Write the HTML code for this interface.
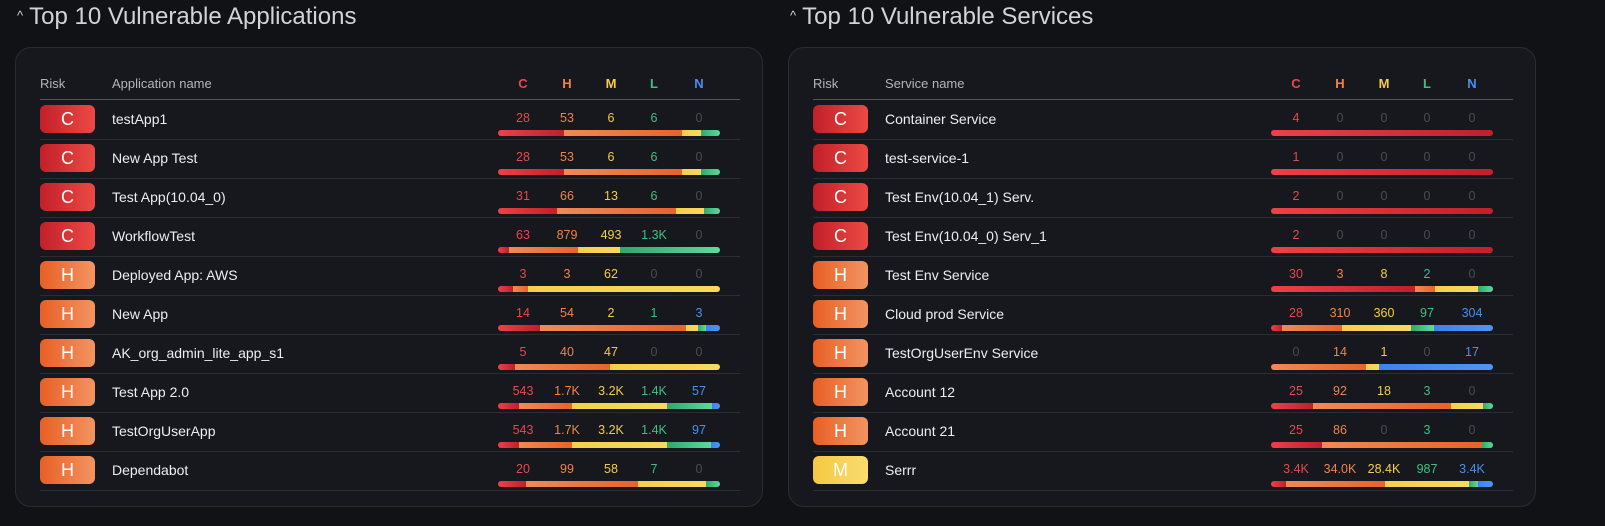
<!DOCTYPE html>
<html><head><meta charset="utf-8">
<style>
body{margin:0;width:1605px;height:526px;background:#111216;font-family:"Liberation Sans",sans-serif;overflow:hidden;position:relative}
.title{position:absolute;top:3px;font-size:24px;color:#d2d3d8}
.title span{font-size:13px;margin-right:6px;position:relative;top:-4px}
.card{position:absolute;top:47px;width:748px;height:460px;background:#17181d;border:1px solid #2b2c33;border-radius:16px;box-sizing:border-box}
.hdr{position:absolute;top:28px;font-size:13px;color:#b4b5bb}
.hline{position:absolute;left:24px;top:51px;width:700px;height:1px;background:#55565c}
.row{position:absolute;left:24px;width:700px;height:39px;border-bottom:1px solid #2c2d33}
.badge{position:absolute;left:0;top:5px;width:55px;height:28px;border-radius:6px;color:#fff;font-size:18px;text-align:center;line-height:28px}
.bC{background:linear-gradient(90deg,#c21f2a,#ec4a44)}
.bH{background:linear-gradient(90deg,#e85f25,#f39462)}
.bM{background:linear-gradient(90deg,#f5c842,#f9dd6d)}
.name{position:absolute;left:72px;top:11px;font-size:14px;color:#eceef2}
.num{position:absolute;top:11px;width:40px;text-align:center;font-size:12.5px}
.bar{position:absolute;top:30px;height:6px;border-radius:3px;overflow:hidden;display:flex}
.colh{position:absolute;top:28px;width:40px;text-align:center;font-size:13px;font-weight:bold}
</style></head><body>
<div class="title" style="left:17px"><span>^</span>Top 10 Vulnerable Applications</div>
<div class="title" style="left:790px"><span>^</span>Top 10 Vulnerable Services</div>
<div class="card" id="c1" style="left:15px"></div>
<div class="card" id="c2" style="left:788px"></div>
<script>
const appNames=["testApp1","New App Test","Test App(10.04_0)","WorkflowTest","Deployed App: AWS","New App","AK_org_admin_lite_app_s1","Test App 2.0","TestOrgUserApp","Dependabot"];
const appRisk=["C","C","C","C","H","H","H","H","H","H"];
const appC=[28,28,31,63,3,14,5,543,543,20];
const appH=[53,53,66,879,3,54,40,1700,1700,99];
const appM=[6,6,13,493,62,2,47,3200,3200,58];
const appL=[6,6,6,1300,0,1,0,1400,1400,7];
const appN=[0,0,0,0,0,3,0,57,97,0];
const appLabels=[["28","53","6","6","0"],["28","53","6","6","0"],["31","66","13","6","0"],["63","879","493","1.3K","0"],["3","3","62","0","0"],["14","54","2","1","3"],["5","40","47","0","0"],["543","1.7K","3.2K","1.4K","57"],["543","1.7K","3.2K","1.4K","97"],["20","99","58","7","0"]];
const svcNames=["Container Service","test-service-1","Test Env(10.04_1) Serv.","Test Env(10.04_0) Serv_1","Test Env Service","Cloud prod Service","TestOrgUserEnv Service","Account 12","Account 21","Serrr"];
const svcRisk=["C","C","C","C","H","H","H","H","H","M"];
const svcC=[4,1,2,2,30,28,0,25,25,3400];
const svcH=[0,0,0,0,3,310,14,92,86,34000];
const svcM=[0,0,0,0,8,360,1,18,0,28400];
const svcL=[0,0,0,0,2,97,0,3,3,987];
const svcN=[0,0,0,0,0,304,17,0,0,3400];
const svcLabels=[["4","0","0","0","0"],["1","0","0","0","0"],["2","0","0","0","0"],["2","0","0","0","0"],["30","3","8","2","0"],["28","310","360","97","304"],["0","14","1","0","17"],["25","92","18","3","0"],["25","86","0","3","0"],["3.4K","34.0K","28.4K","987","3.4K"]];
const sevLetters=["C","H","M","L","N"];
const textCol=["#e5484d","#f0834a","#f5cc4a","#3fbf86","#4a8ff0"];
const segCol=["linear-gradient(90deg,#ee4147,#c01f2b)","linear-gradient(90deg,#f08a55,#e8632a)","linear-gradient(90deg,#f5cf4a,#f7d95e)","linear-gradient(90deg,#2fa86e,#5ed99a)","linear-gradient(90deg,#3d82ee,#4f95f5)"];
const colX=[463,507,551,594,639];
const barX=458,barW=222,minSeg=6;
function build(card,head,names,risk,series,labels){
  const c=document.getElementById(card);
  let h=document.createElement('div');h.className='hdr';h.style.left='24px';h.textContent='Risk';
  
  c.appendChild(h);
  h=document.createElement('div');h.className='hdr';h.style.left='96px';h.textContent=head;
  
  c.appendChild(h);
  sevLetters.forEach((s,i)=>{const e=document.createElement('div');e.className='colh';e.style.left=(colX[i]+24)+'px';e.style.color=textCol[i];e.textContent=s;
    
    c.appendChild(e);});
  const l=document.createElement('div');l.className='hline';
  
  c.appendChild(l);
  names.forEach((n,r)=>{
    const row=document.createElement('div');row.className='row';row.style.top=(52+r*39)+'px';
    
    
    const b=document.createElement('div');b.className='badge b'+risk[r];b.textContent=risk[r];
    
    row.appendChild(b);
    const nm=document.createElement('div');nm.className='name';nm.textContent=n;
    
    row.appendChild(nm);
    const vals=series.map(s=>s[r]);
    labels[r].forEach((t,i)=>{const e=document.createElement('div');e.className='num';e.style.left=colX[i]+'px';
      e.style.color=vals[i]>0?textCol[i]:'#4a4b52';e.textContent=t;
      
      row.appendChild(e);});
    const bar=document.createElement('div');bar.className='bar';bar.style.left=barX+'px';bar.style.width=barW+'px';
    
    
    const nz=vals.filter(v=>v>0).length;const tot=vals.reduce((a,b)=>a+b,0);
    const avail=barW-nz*minSeg;
    vals.forEach((v,i)=>{if(v<=0)return;const s=document.createElement('div');
      s.style.width=(minSeg+avail*v/tot)+'px';s.style.height='6px';s.style.background=segCol[i];
      
      bar.appendChild(s);});
    row.appendChild(bar);
    c.appendChild(row);
  });
}
build('c1','Application name',appNames,appRisk,[appC,appH,appM,appL,appN],appLabels);
build('c2','Service name',svcNames,svcRisk,[svcC,svcH,svcM,svcL,svcN],svcLabels);
</script>
</body></html>
